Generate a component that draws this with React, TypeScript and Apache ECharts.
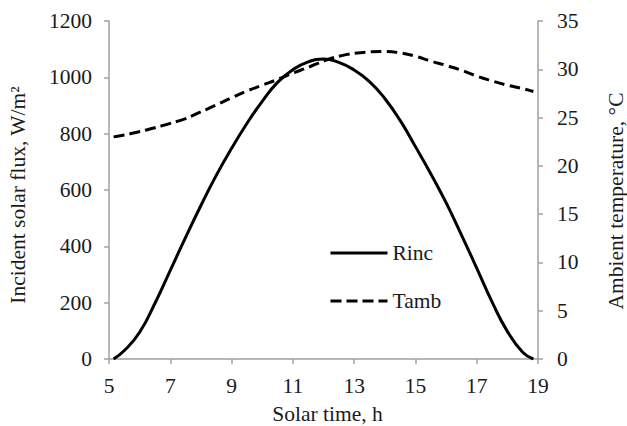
import React, { useEffect, useRef } from "react";
import * as echarts from "echarts";

const hours = [5.15, 5.5, 6, 6.5, 7, 7.5, 8, 8.5, 9, 9.5, 10, 10.5, 11, 11.5, 12, 12.5, 13, 13.5, 14, 14.5, 15, 15.5, 16, 16.5, 17, 17.5, 18, 18.5, 18.85];
const rinc = [0, 30, 95, 198, 315, 432, 545, 652, 748, 836, 915, 982, 1027, 1055, 1065, 1053, 1026, 985, 925, 847, 754, 658, 555, 441, 323, 203, 98, 24, 0];
const tamb = [23.0, 23.2, 23.55, 23.95, 24.4, 24.9, 25.6, 26.3, 27.05, 27.75, 28.35, 28.95, 29.6, 30.2, 30.85, 31.35, 31.65, 31.8, 31.85, 31.7, 31.35, 30.85, 30.4, 29.9, 29.3, 28.8, 28.35, 28.0, 27.7];
const xStart = 5;
const xEnd = 19;
const xStep = 2;
const fluxTicks = { min: 0, max: 1200, step: 200 };
const tempTicks = { min: 0, max: 35, step: 5 };

const FONT = "Liberation Serif";
const FS = 21.5;
const TEXT_COLOR = "#1a1a1a";
const AXIS_COLOR = "#a0a0a0";

export default function App() {
  const ref = useRef<HTMLDivElement>(null);
  useEffect(() => {
    if (!ref.current) return;
    const chart = echarts.init(ref.current, null, { renderer: "svg" });
    const axisCommon = {
      axisLine: { show: true, lineStyle: { color: AXIS_COLOR, width: 1.5 } },
      axisTick: { show: true, length: 5, lineStyle: { color: AXIS_COLOR, width: 1.5 } },
      splitLine: { show: false },
    };
    const nameStyle = (padding: number[]) => ({
      fontFamily: FONT,
      fontSize: FS,
      color: TEXT_COLOR,
      padding,
    });
    const label = (margin: number, fmt?: (v: number) => string) => ({
      fontFamily: FONT,
      fontSize: FS,
      color: TEXT_COLOR,
      margin,
      formatter: fmt || ((v: number) => String(v)),
    });
    chart.setOption({
      animation: false,
      backgroundColor: "#fff",
      grid: { left: 109, right: 89, top: 21, bottom: 67, containLabel: false, outerBoundsMode: "none" },
      legend: {
        orient: "vertical",
        left: 324,
        top: 237,
        padding: 5,
        itemWidth: 57,
        itemHeight: 14,
        itemGap: 26,
        itemStyle: { opacity: 0 },
        lineStyle: { width: 3 },
        textStyle: { fontFamily: FONT, fontSize: FS, color: TEXT_COLOR },
        data: ["Rinc", "Tamb"],
      },
      xAxis: {
        type: "value",
        min: 0,
        max: xEnd - xStart,
        interval: xStep,
        name: "Solar time, h",
        nameLocation: "middle",
        nameGap: 44,
        nameTextStyle: nameStyle([0, 0, 0, 8]),
        axisLabel: label(16, (v: number) => String(v + xStart)),
        ...axisCommon,
      },
      yAxis: [
        {
          type: "value",
          min: fluxTicks.min,
          max: fluxTicks.max,
          interval: fluxTicks.step,
          position: "left",
          name: "Incident solar flux, W/m²",
          nameLocation: "middle",
          nameGap: 80,
          nameTextStyle: nameStyle([0, 10, 0, 0]),
          axisLabel: label(17),
          ...axisCommon,
        },
        {
          type: "value",
          min: tempTicks.min,
          max: tempTicks.max,
          interval: tempTicks.step,
          position: "right",
          name: "Ambient temperature, °C",
          nameLocation: "middle",
          nameGap: 67,
          nameRotate: 90,
          nameTextStyle: nameStyle([0, 22, 0, 0]),
          axisLabel: label(19),
          ...axisCommon,
        },
      ],
      series: [
        {
          name: "Rinc",
          type: "line",
          yAxisIndex: 0,
          smooth: true,
          symbol: "none",
          lineStyle: { color: "#000", width: 3 },
          itemStyle: { color: "#000" },
          data: hours.map((h, i) => [h - xStart, rinc[i]]),
        },
        {
          name: "Tamb",
          type: "line",
          yAxisIndex: 1,
          smooth: true,
          symbol: "none",
          lineStyle: { color: "#000", width: 3, type: [11, 5] },
          itemStyle: { color: "#000" },
          data: hours.map((h, i) => [h - xStart, tamb[i]]),
        },
      ],
    });
    return () => chart.dispose();
  }, []);
  return <div ref={ref} style={{ width: 627, height: 426, position: "absolute", left: 0, top: 0 }} />;
}
